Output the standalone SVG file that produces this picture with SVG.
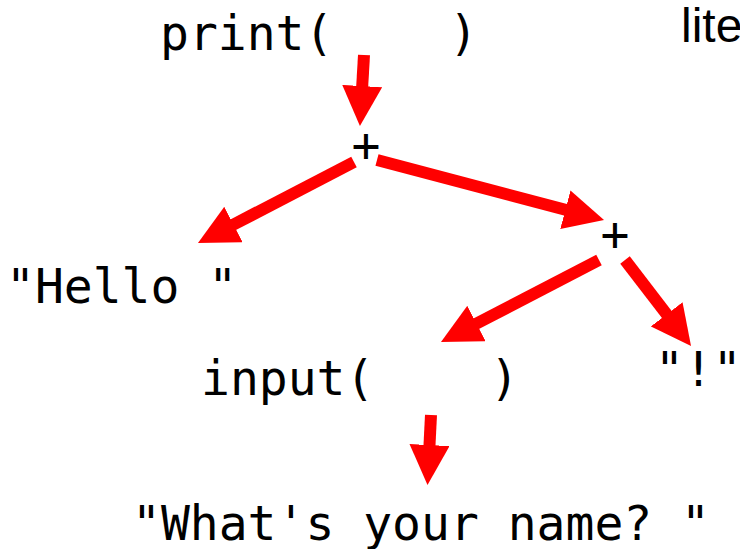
<svg xmlns="http://www.w3.org/2000/svg" width="740" height="549" viewBox="0 0 740 549">
<style>
.code{font-family:"DejaVu Sans Mono",monospace;font-size:48px;fill:#000;white-space:pre}
.lbl{font-family:"Liberation Sans",Arial,sans-serif;font-size:48px;fill:#000}
.arr{stroke:#ff0000;stroke-width:12;fill:none;stroke-linecap:butt}
</style>
<defs>
<marker id="head" markerUnits="userSpaceOnUse" markerWidth="40" markerHeight="40" viewBox="0 0 40 40" refX="2" refY="20" orient="auto">
<path d="M0,0 L40,20 L0,40 Z" fill="#ff0000"/>
</marker>
</defs>
<rect width="740" height="549" fill="#fff"/>
<g id="connectors">
<line class="arr" x1="364" y1="55" x2="362.1" y2="88.05" marker-end="url(#head)"/>
<line class="arr" x1="354" y1="162" x2="231.7" y2="225.5" marker-end="url(#head)"/>
<line class="arr" x1="377" y1="160" x2="567.3" y2="210.3" marker-end="url(#head)"/>
<line class="arr" x1="599" y1="260" x2="474.7" y2="324.5" marker-end="url(#head)"/>
<line class="arr" x1="625" y1="260" x2="667.9" y2="315.9" marker-end="url(#head)"/>
<line class="arr" x1="431" y1="415" x2="429.4" y2="447.05" marker-end="url(#head)"/>
</g>
<g id="print"><text class="code" x="160" y="50" xml:space="preserve">print(    )</text></g>
<g id="lite"><text class="lbl" x="681" y="42">lite</text></g>
<g id="plus1"><text class="code" x="366" y="162" text-anchor="middle">+</text></g>
<g id="hello"><text class="code" x="6" y="303" xml:space="preserve">"Hello "</text></g>
<g id="plus2"><text class="code" x="615" y="251" text-anchor="middle">+</text></g>
<g id="input"><text class="code" x="201" y="395" xml:space="preserve">input(    )</text></g>
<g id="excl"><text class="code" x="655" y="386">"!"</text></g>
<g id="name"><text class="code" x="132" y="540" xml:space="preserve">"What's your name? "</text></g>
</svg>
